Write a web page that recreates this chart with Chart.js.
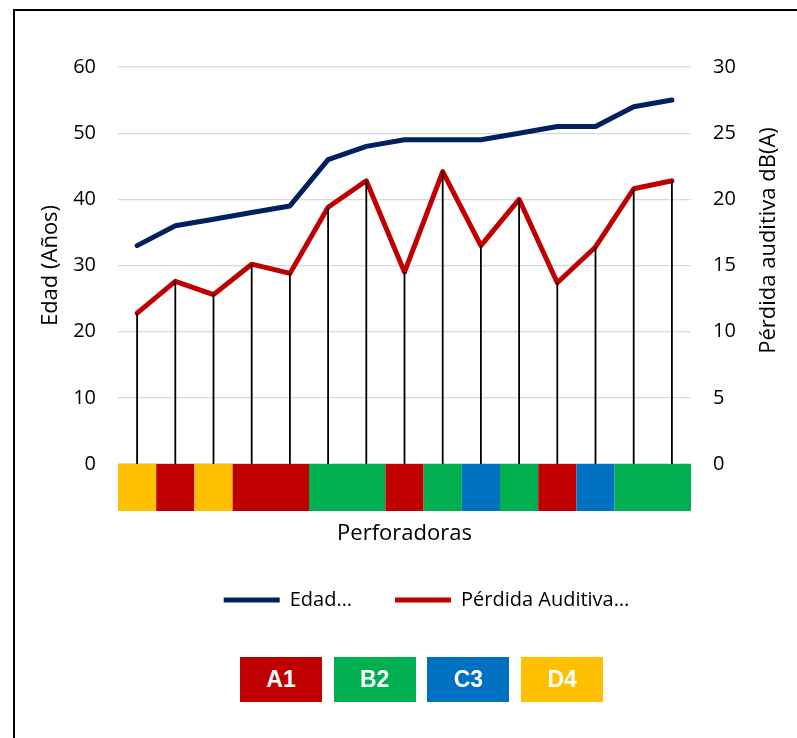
<!DOCTYPE html>
<html lang="es">
<head>
<meta charset="utf-8">
<title>Edad y pérdida auditiva por perforadora</title>
<script src="https://cdn.jsdelivr.net/npm/chart.js@4.4.0/dist/chart.umd.min.js"></script>
<style>
  html, body { margin: 0; padding: 0; background: #fff; }
  #wrap { position: relative; width: 797px; height: 738px; overflow: hidden; }
  #frame { position: absolute; left: 13px; top: 9px; width: 840px; height: 760px;
           border: 2px solid #000; box-sizing: border-box; }
  #c { position: absolute; left: 0; top: 0; }
  .key { position: absolute; top: 657px; width: 82px; height: 45px; color: #fff;
         font: bold 23px "Liberation Sans", Arial, sans-serif;
         display: flex; align-items: center; justify-content: center; }
</style>
</head>
<body>
<div id="wrap">
  <div id="frame"></div>
  <canvas id="c" width="840" height="738"></canvas>
  <div id="keys"></div>
</div>
<script>
// Perforadoras (one per worker, ordered by age)
const perforadoras = ['P1','P2','P3','P4','P5','P6','P7','P8','P9','P10','P11','P12','P13','P14','P15'];
// Edad (años) – left axis
const edad = [33, 36, 37, 38, 39, 46, 48, 49, 49, 49, 50, 51, 51, 54, 55];
// Pérdida auditiva dB(A) – right axis
const perdida = [11.4, 13.8, 12.8, 15.1, 14.4, 19.4, 21.4, 14.5, 22.1, 16.5, 20.0, 13.7, 16.4, 20.8, 21.4];
// Group of each perforadora
const grupo = ['D4','A1','D4','A1','A1','B2','B2','A1','B2','C3','B2','A1','C3','B2','B2'];
const grupos = ['A1', 'B2', 'C3', 'D4'];
const grupoColor = { A1: '#C00000', B2: '#00B050', C3: '#0070C0', D4: '#FFC000' };
// Axis ticks
const edadTicks = { min: 0, max: 60, step: 10 };
const perdidaTicks = { min: 0, max: 30, step: 5 };

const FONT = '"Open Sans", "Liberation Sans", sans-serif';
const TEXT = '#000000';

// Group keys under the chart
const keys = document.getElementById('keys');
grupos.forEach((g, i) => {
  const d = document.createElement('div');
  d.className = 'key';
  d.style.left = (240 + i * 93.7) + 'px';
  d.style.background = grupoColor[g];
  d.textContent = g;
  keys.appendChild(d);
});

// Drop lines from each hearing-loss point to the zero line, plus the group band under the axis
const extras = {
  id: 'extras',
  afterDatasetsDraw(chart) {
    const ctx = chart.ctx;
    const area = chart.chartArea;
    const x = chart.scales.x;
    const y1 = chart.scales.y1;
    const zero = y1.getPixelForValue(0);
    const pts = chart.getDatasetMeta(1).data;
    ctx.save();
    ctx.strokeStyle = '#000';
    ctx.lineWidth = 1.8;
    pts.forEach(p => {
      ctx.beginPath();
      ctx.moveTo(p.x, p.y);
      ctx.lineTo(p.x, zero);
      ctx.stroke();
    });
    // coloured band: one block per run of consecutive perforadoras in the same group
    const half = (x.getPixelForValue(1) - x.getPixelForValue(0)) / 2;
    let i = 0;
    while (i < grupo.length) {
      let j = i;
      while (j + 1 < grupo.length && grupo[j + 1] === grupo[i]) j++;
      const l = x.getPixelForValue(i) - half;
      const r = x.getPixelForValue(j) + half;
      ctx.fillStyle = grupoColor[grupo[i]];
      ctx.fillRect(l, area.bottom, r - l, 47);
      i = j + 1;
    }
    // right axis title, reading bottom to top
    ctx.translate(769, (area.top + area.bottom) / 2 - 25);
    ctx.rotate(-Math.PI / 2);
    ctx.font = '22px ' + FONT;
    ctx.fillStyle = TEXT;
    ctx.textAlign = 'center';
    ctx.textBaseline = 'middle';
    ctx.fillText('Pérdida auditiva dB(A)', 0, 0);
    ctx.restore();
  }
};

new Chart(document.getElementById('c'), {
  type: 'line',
  data: {
    labels: perforadoras,
    datasets: [
      {
        label: 'Edad…',
        data: edad,
        yAxisID: 'y',
        borderColor: '#002060',
        backgroundColor: '#002060',
        borderWidth: 5,
        borderCapStyle: 'round',
        borderJoinStyle: 'round',
        pointRadius: 0,
        tension: 0
      },
      {
        label: 'Pérdida Auditiva…',
        data: perdida,
        yAxisID: 'y1',
        borderColor: '#C00000',
        backgroundColor: '#C00000',
        borderWidth: 5,
        borderCapStyle: 'round',
        borderJoinStyle: 'round',
        pointRadius: 0,
        tension: 0
      }
    ]
  },
  options: {
    responsive: false,
    animation: false,
    layout: { padding: { left: 20, right: 7, top: 67, bottom: 118 } },
    plugins: {
      tooltip: { enabled: false },
      legend: {
        position: 'bottom',
        labels: {
          boxWidth: 56,
          boxHeight: 5,
          padding: 43,
          color: TEXT,
          font: { family: FONT, size: 20 },
          generateLabels(chart) {
            return chart.data.datasets.map((ds, i) => ({
              text: ds.label,
              fillStyle: ds.borderColor,
              strokeStyle: ds.borderColor,
              lineWidth: 0,
              fontColor: TEXT,
              datasetIndex: i
            }));
          }
        }
      }
    },
    scales: {
      x: {
        offset: true,
        grid: { display: false, drawTicks: false },
        border: { display: false },
        ticks: { display: false },
        title: { display: true, text: 'Perforadoras', color: TEXT,
                 font: { family: FONT, size: 22 }, padding: 0 },
        afterFit(s) { s.height = 83; }
      },
      y: {
        position: 'left',
        min: edadTicks.min, max: edadTicks.max,
        ticks: { stepSize: edadTicks.step, padding: 22, color: TEXT, font: { family: FONT, size: 20 } },
        grid: { color: '#d9d9d9', lineWidth: 1.2, drawTicks: false },
        border: { display: false },
        title: { display: true, text: 'Edad (Años)', color: TEXT,
                 font: { family: FONT, size: 22 }, padding: { top: 18, bottom: 0 } },
        afterFit(s) { s.width = 98; }
      },
      y1: {
        position: 'right',
        min: perdidaTicks.min, max: perdidaTicks.max,
        ticks: { stepSize: perdidaTicks.step, padding: 22, color: TEXT, font: { family: FONT, size: 20 } },
        grid: { display: false, drawTicks: false },
        border: { display: false },
        afterFit(s) { s.width = 142; }
      }
    }
  },
  plugins: [extras]
});
</script>
</body>
</html>
